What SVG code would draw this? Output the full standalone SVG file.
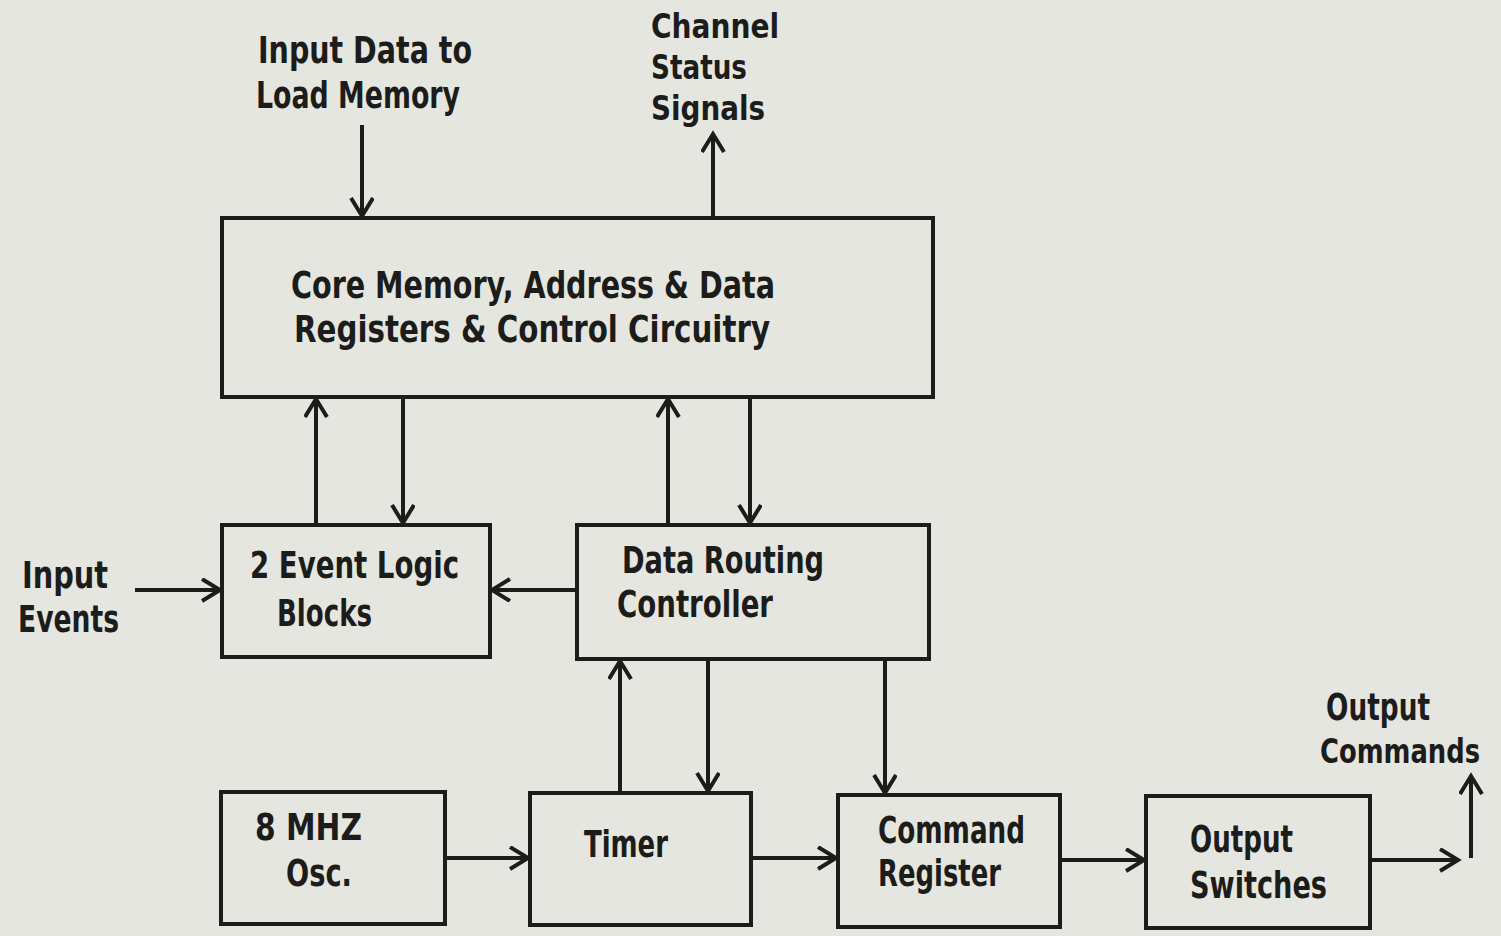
<svg xmlns="http://www.w3.org/2000/svg" width="1501" height="936" viewBox="0 0 1501 936">
<defs>
<marker id="arr" markerUnits="userSpaceOnUse" markerWidth="30" markerHeight="30" refX="19" refY="12" orient="auto">
<path d="M1,1 L19,12 L1,23" fill="none" stroke="#1c1c1a" stroke-width="4" stroke-linejoin="miter"/>
</marker>
<style>
.box{fill:none;stroke:#1c1c1a;stroke-width:4}
.ln{fill:none;stroke:#1c1c1a;stroke-width:4;marker-end:url(#arr)}
text{font-family:"DejaVu Sans Condensed","DejaVu Sans",sans-serif;font-weight:bold;font-size:38px;fill:#1c1c1a}
.sm{font-size:34px}
.cm{font-size:33px}
</style>
</defs>
<rect x="0" y="0" width="1501" height="936" fill="#e5e6df"/>
<g id="connectors">
<line class="ln" x1="362" y1="125" x2="362" y2="216"/>
<line class="ln" x1="713" y1="218" x2="713" y2="134"/>
<line class="ln" x1="316" y1="525" x2="316" y2="399"/>
<line class="ln" x1="403" y1="397" x2="403" y2="523"/>
<line class="ln" x1="668" y1="525" x2="668" y2="399"/>
<line class="ln" x1="750" y1="397" x2="750" y2="523"/>
<line class="ln" x1="135" y1="590" x2="220" y2="590"/>
<line class="ln" x1="577" y1="590" x2="492" y2="590"/>
<line class="ln" x1="620" y1="793" x2="620" y2="661"/>
<line class="ln" x1="708" y1="659" x2="708" y2="791"/>
<line class="ln" x1="885" y1="659" x2="885" y2="793"/>
<line class="ln" x1="445" y1="858" x2="528" y2="858"/>
<line class="ln" x1="751" y1="858" x2="836" y2="858"/>
<line class="ln" x1="1060" y1="860" x2="1144" y2="860"/>
<line class="ln" x1="1370" y1="860" x2="1458" y2="860"/>
<line class="ln" x1="1471" y1="858" x2="1471" y2="776"/>
</g>
<g id="labels">
<text x="258" y="63" textLength="214" lengthAdjust="spacingAndGlyphs">Input Data to</text>
<text x="256" y="108" textLength="204" lengthAdjust="spacingAndGlyphs">Load Memory</text>
<text class="sm" x="651" y="38" textLength="128" lengthAdjust="spacingAndGlyphs">Channel</text>
<text class="sm" x="651" y="79" textLength="96" lengthAdjust="spacingAndGlyphs">Status</text>
<text class="sm" x="651" y="120" textLength="114" lengthAdjust="spacingAndGlyphs">Signals</text>
<text x="22" y="588" textLength="86" lengthAdjust="spacingAndGlyphs">Input</text>
<text x="18" y="632" textLength="101" lengthAdjust="spacingAndGlyphs">Events</text>
<text x="1326" y="720" textLength="104" lengthAdjust="spacingAndGlyphs">Output</text>
<text class="cm" x="1320" y="763" textLength="160" lengthAdjust="spacingAndGlyphs">Commands</text>
</g>
<g id="core">
<rect class="box" x="222" y="218" width="711" height="179"/>
<text x="291" y="298" textLength="484" lengthAdjust="spacingAndGlyphs">Core Memory, Address &amp; Data</text>
<text x="294" y="342" textLength="476" lengthAdjust="spacingAndGlyphs">Registers &amp; Control Circuitry</text>
</g>
<g id="event-logic">
<rect class="box" x="222" y="525" width="268" height="132"/>
<text x="250" y="578" textLength="209" lengthAdjust="spacingAndGlyphs">2 Event Logic</text>
<text x="277" y="626" textLength="95" lengthAdjust="spacingAndGlyphs">Blocks</text>
</g>
<g id="data-routing">
<rect class="box" x="577" y="525" width="352" height="134"/>
<text x="622" y="573" textLength="202" lengthAdjust="spacingAndGlyphs">Data Routing</text>
<text x="617" y="617" textLength="156" lengthAdjust="spacingAndGlyphs">Controller</text>
</g>
<g id="oscillator">
<rect class="box" x="221" y="792" width="224" height="132"/>
<text x="255" y="840" textLength="107" lengthAdjust="spacingAndGlyphs">8 MHZ</text>
<text x="286" y="886" textLength="66" lengthAdjust="spacingAndGlyphs">Osc.</text>
</g>
<g id="timer">
<rect class="box" x="530" y="793" width="221" height="132"/>
<text x="584" y="857" textLength="84" lengthAdjust="spacingAndGlyphs">Timer</text>
</g>
<g id="command-register">
<rect class="box" x="838" y="795" width="222" height="132"/>
<text x="878" y="843" textLength="147" lengthAdjust="spacingAndGlyphs">Command</text>
<text x="878" y="886" textLength="123" lengthAdjust="spacingAndGlyphs">Register</text>
</g>
<g id="output-switches">
<rect class="box" x="1146" y="796" width="224" height="132"/>
<text x="1190" y="852" textLength="103" lengthAdjust="spacingAndGlyphs">Output</text>
<text x="1190" y="898" textLength="137" lengthAdjust="spacingAndGlyphs">Switches</text>
</g>
</svg>
